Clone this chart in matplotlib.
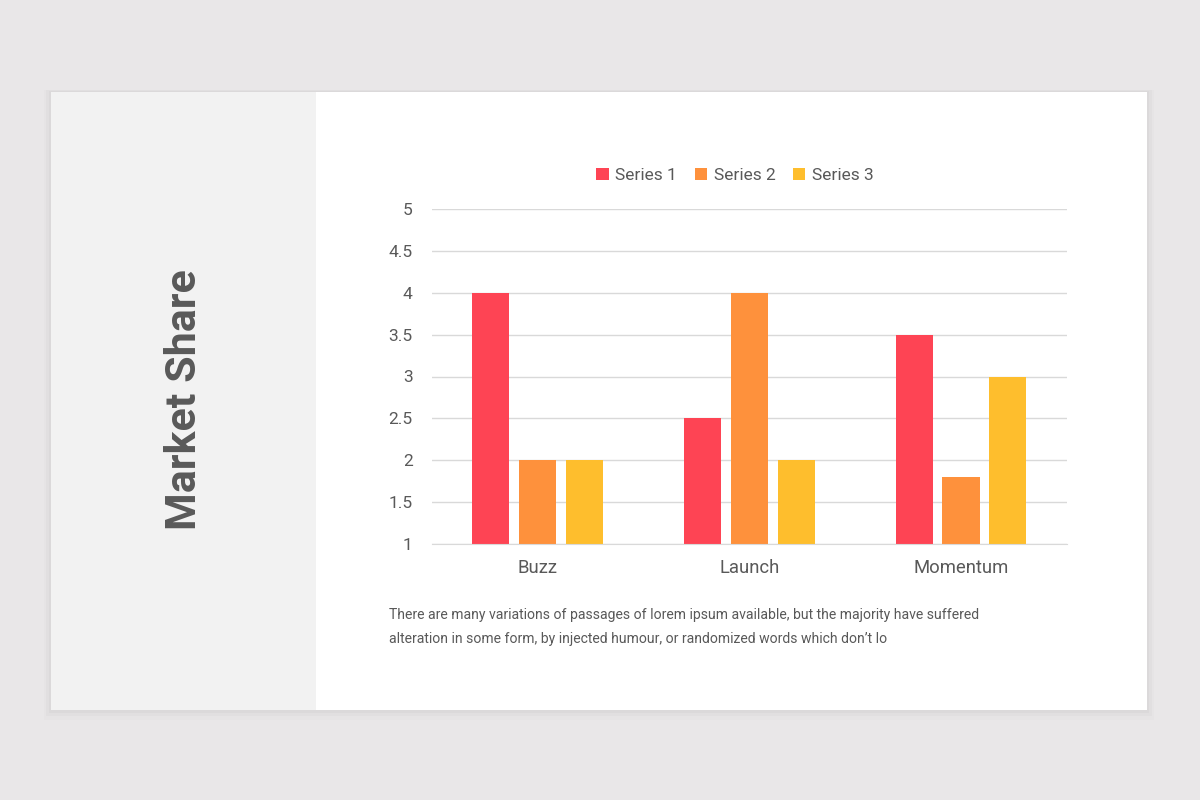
import matplotlib.pyplot as plt
from matplotlib.patches import Rectangle
import numpy as np

plt.rcParams['font.family'] = ['Roboto', 'DejaVu Sans']

# Données du graphique
categories = ["Buzz", "Launch", "Momentum"]
series_names = ["Series 1", "Series 2", "Series 3"]
series_1 = [4.0, 2.5, 3.5]
series_2 = [2.0, 4.0, 1.8]
series_3 = [2.0, 2.0, 3.0]
y_ticks = [1, 1.5, 2, 2.5, 3, 3.5, 4, 4.5, 5]
y_tick_labels = ["1", "1.5", "2", "2.5", "3", "3.5", "4", "4.5", "5"]

colors = ["#fe4454", "#fe913c", "#febe2d"]
text_color = "#595959"

fig = plt.figure(figsize=(12, 8), dpi=100)
fig.patch.set_facecolor("#e9e7e8")

# Carte avec ombre légère
for i, a in enumerate([0.025, 0.018, 0.012]):
    pad = (i + 1) * 0.002
    fig.patches.append(Rectangle((0.0425 - pad, 0.1125 - pad * 2), 0.9133 + 2 * pad, 0.7725 + pad * 2.5,
                                 transform=fig.transFigure, facecolor="black", alpha=a,
                                 edgecolor="none", zorder=0))
fig.patches.append(Rectangle((0.0425, 0.1125), 0.9133, 0.7725, transform=fig.transFigure,
                             facecolor="white", edgecolor="none", zorder=1))
fig.patches.append(Rectangle((0.0425, 0.1125), 0.2208, 0.7725, transform=fig.transFigure,
                             facecolor="#f2f2f2", edgecolor="none", zorder=2))

fig.text(0.154, 0.5, "Market Share", rotation=90, ha="center", va="center",
         fontsize=31, fontweight="bold", color=text_color, zorder=3)

ax = fig.add_axes([0.36, 0.32, 0.529, 0.41875])
ax.set_zorder(5)
ax.set_facecolor("none")
x = np.arange(len(categories))
width = 0.175
step = 0.222
for k, (vals, name) in enumerate(zip([series_1, series_2, series_3], series_names)):
    ax.bar(x + (k - 1) * step, np.array(vals) - 1, width, bottom=1, color=colors[k],
           label=name, zorder=3)

ax.set_xlim(-0.5, 2.5)
ax.set_ylim(1, 5)
ax.set_yticks(y_ticks)
ax.set_yticklabels(y_tick_labels)
ax.set_xticks(x)
ax.set_xticklabels(categories)
ax.tick_params(axis="y", length=0, colors=text_color, labelsize=12.5, pad=14)
ax.tick_params(axis="x", length=0, colors=text_color, labelsize=13.3, pad=11)
ax.grid(axis="y", color="#d9d9d9", linewidth=1, zorder=0)
for s in ax.spines.values():
    s.set_visible(False)
ax.spines["bottom"].set_visible(True)
ax.spines["bottom"].set_color("#d9d9d9")
ax.spines["bottom"].set_zorder(4)

handles, labels = ax.get_legend_handles_labels()
leg = fig.legend(handles, labels, loc="center", bbox_to_anchor=(0.6125, 0.781), ncol=3,
                 frameon=False, fontsize=12.5, handlelength=0.7, handleheight=0.7,
                 handletextpad=0.4, columnspacing=1.0)
leg.set_zorder(6)
for t in leg.get_texts():
    t.set_color(text_color)

fig.text(0.324, 1 - 615 / 800,
         "There are many variations of passages of lorem ipsum available, but the majority have suffered",
         fontsize=10.1, color=text_color, va="center", zorder=6)
fig.text(0.324, 1 - 639 / 800,
         "alteration in some form, by injected humour, or randomized words which don\u2019t lo",
         fontsize=10.1, color=text_color, va="center", zorder=6)

fig.savefig("out.png", dpi=100, facecolor=fig.get_facecolor())
